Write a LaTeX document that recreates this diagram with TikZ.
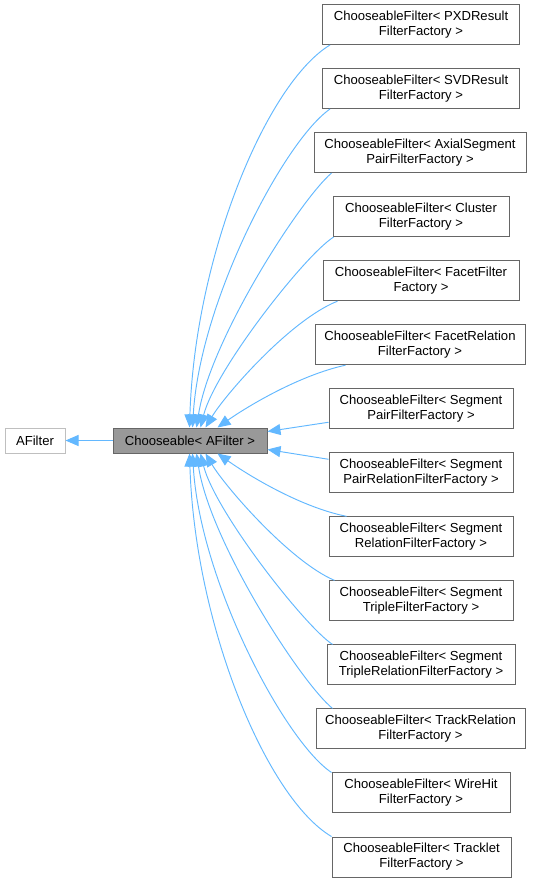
\documentclass[tikz,border=0pt]{standalone}
\usepackage{fontspec}
\setmainfont{Liberation Sans}
\usetikzlibrary{arrows.meta,calc}
\definecolor{edgeblue}{HTML}{63B8FF}
\definecolor{boxgray}{HTML}{666666}
\definecolor{ltgray}{HTML}{BFBFBF}
\definecolor{fillgray}{HTML}{999999}
\begin{document}
\begin{tikzpicture}[x=1pt,y=-1pt,
  every node/.style={font=\fontsize{13.1}{15}\selectfont, inner sep=0pt, align=center},
  cls/.style={draw=boxgray, fill=white, line width=1pt, minimum height=40pt},
  inh/.style={draw=edgeblue, line width=0.95pt, -{Triangle[length=13pt,width=11pt]}}
]
\useasboundingbox (0,0) rectangle (533,883);

\node[draw=ltgray, fill=white, line width=1pt, minimum width=60pt, minimum height=25pt] (af) at (35,440.5) {AFilter};
\node[draw=boxgray, fill=fillgray, line width=1pt, minimum width=154pt, minimum height=25pt] (ch) at (190,440.5) {Chooseable< AFilter >};

\node[cls, minimum width=197pt] (b1) at (421,24.5) {ChooseableFilter< PXDResult\\FilterFactory >};
\node[cls, minimum width=197pt] (b2) at (421,88.54) {ChooseableFilter< SVDResult\\FilterFactory >};
\node[cls, minimum width=212pt] (b3) at (420,152.58) {ChooseableFilter< AxialSegment\\PairFilterFactory >};
\node[cls, minimum width=176pt] (b4) at (421,216.62) {ChooseableFilter< Cluster\\FilterFactory >};
\node[cls, minimum width=196pt] (b5) at (421,280.66) {ChooseableFilter< FacetFilter\\Factory >};
\node[cls, minimum width=210pt] (b6) at (420,344.70) {ChooseableFilter< FacetRelation\\FilterFactory >};
\node[cls, minimum width=184pt] (b7) at (421,408.74) {ChooseableFilter< Segment\\PairFilterFactory >};
\node[cls, minimum width=184pt] (b8) at (421,472.78) {ChooseableFilter< Segment\\PairRelationFilterFactory >};
\node[cls, minimum width=184pt] (b9) at (421,536.82) {ChooseableFilter< Segment\\RelationFilterFactory >};
\node[cls, minimum width=184pt] (b10) at (421,600.86) {ChooseableFilter< Segment\\TripleFilterFactory >};
\node[cls, minimum width=188pt] (b11) at (421,664.90) {ChooseableFilter< Segment\\TripleRelationFilterFactory >};
\node[cls, minimum width=209pt] (b12) at (420.5,728.94) {ChooseableFilter< TrackRelation\\FilterFactory >};
\node[cls, minimum width=178pt] (b13) at (421,792.98) {ChooseableFilter< WireHit\\FilterFactory >};
\node[cls, minimum width=179pt] (b14) at (421.5,857.02) {ChooseableFilter< Tracklet\\FilterFactory >};

\draw[inh] (ch.west) -- (af.east);

\draw[inh] ($(b1.south west)+(8,0)$) .. controls (267,83) and (195,255) .. ($(ch.north west)+(77,0)$);
\draw[inh] ($(b2.south west)+(8,0)$) .. controls (285,140) and (200,300) .. ($(ch.north west)+(80,0)$);
\draw[inh] ($(b3.south west)+(18,0)$) .. controls (300,200) and (210,340) .. ($(ch.north west)+(84,0)$);
\draw[inh] ($(b4.south west)+(1,0)$) .. controls (305,255) and (215,370) .. ($(ch.north west)+(88,0)$);
\draw[inh] ($(b5.south west)+(15,0)$) .. controls (290,320) and (225,395) .. ($(ch.north west)+(93,0)$);
\draw[inh] ($(b6.south west)+(31,0)$) .. controls (300,375) and (248,406) .. ($(ch.north west)+(105,0)$);
\draw[inh] ($(b7.south west)+(0,-7)$) -- ($(ch.north east)+(0,4)$);
\draw[inh] ($(b8.north west)+(0,7)$) -- ($(ch.south east)+(0,-4)$);
\draw[inh] ($(b9.north west)+(18,0)$) .. controls (300,507) and (248,475) .. ($(ch.south west)+(105,0)$);
\draw[inh] ($(b10.north west)+(6,0)$) .. controls (290,561.5) and (225,486.5) .. ($(ch.south west)+(93,0)$);
\draw[inh] ($(b11.north west)+(6,0)$) .. controls (305,626.5) and (215,511.5) .. ($(ch.south west)+(88,0)$);
\draw[inh] ($(b12.north west)+(17,0)$) .. controls (300,681.5) and (210,541.5) .. ($(ch.south west)+(84,0)$);
\draw[inh] ($(b13.north west)+(0,0)$) .. controls (285,741.5) and (200,581.5) .. ($(ch.south west)+(80,0)$);
\draw[inh] ($(b14.north west)+(0,0)$) .. controls (267,798.5) and (195,626.5) .. ($(ch.south west)+(77,0)$);
\end{tikzpicture}
\end{document}
